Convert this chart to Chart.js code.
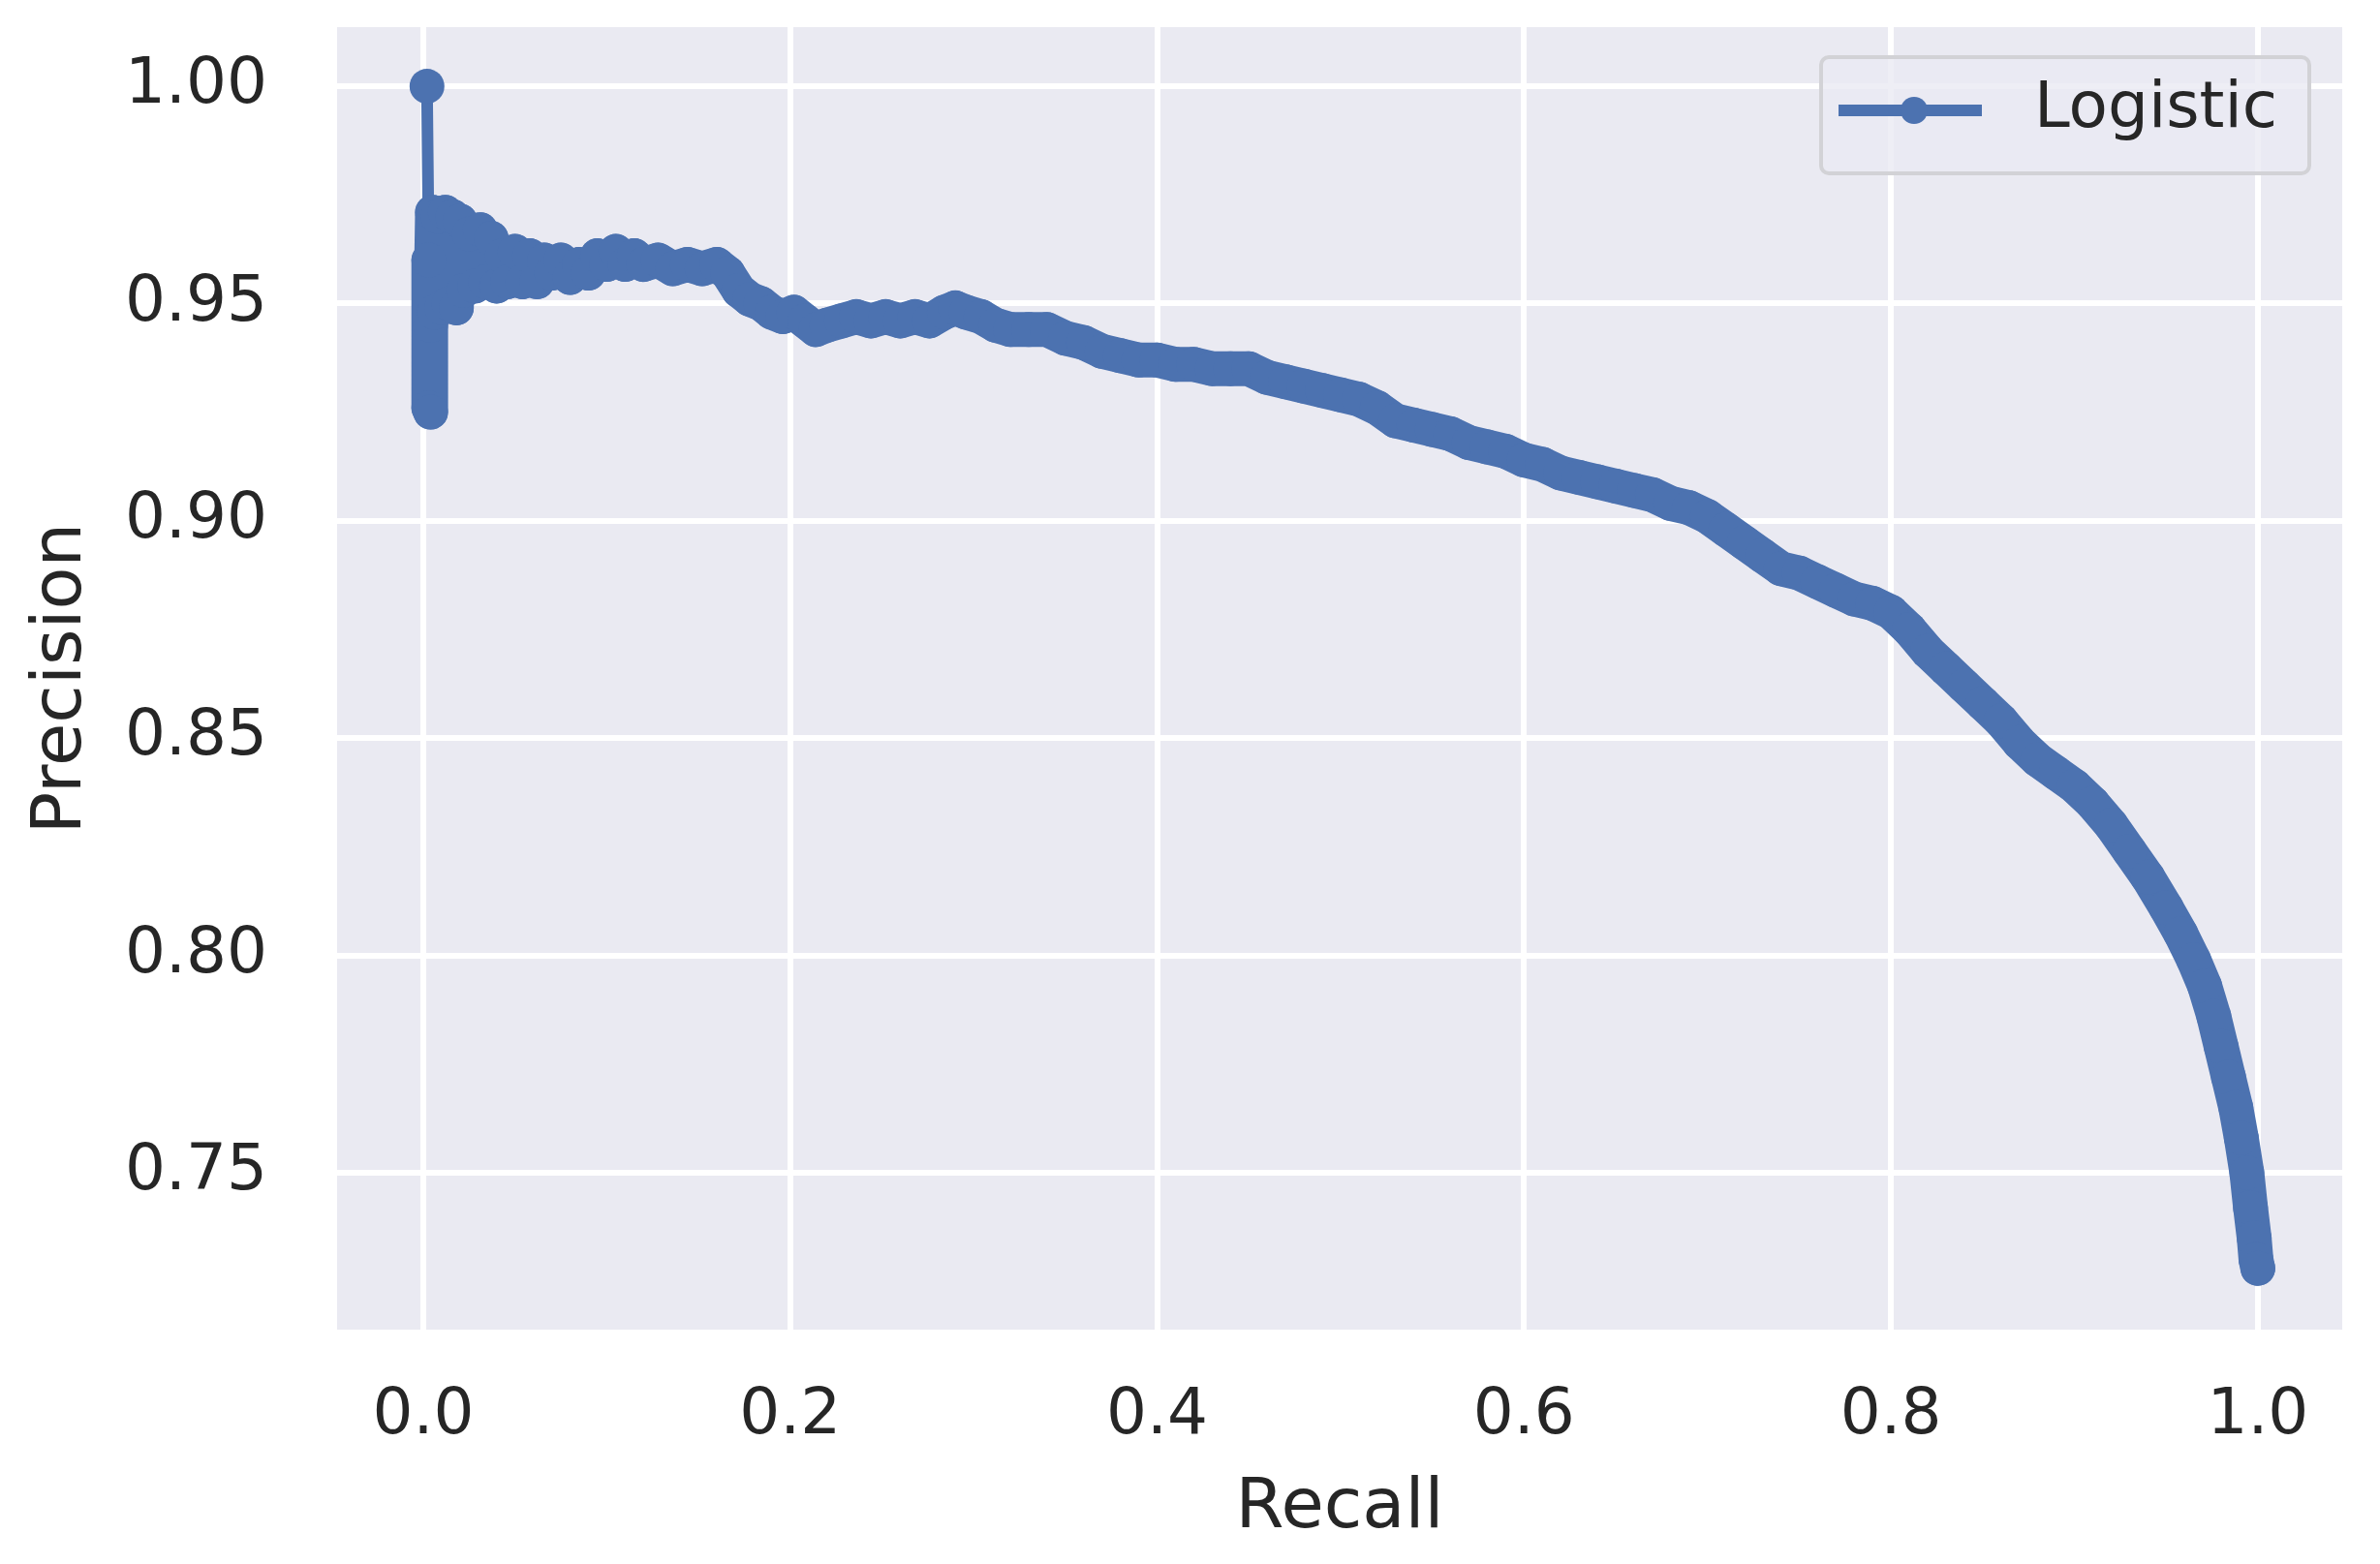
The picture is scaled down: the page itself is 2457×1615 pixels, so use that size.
<!DOCTYPE html>
<html>
<head>
  <script src="https://cdn.jsdelivr.net/npm/chart.js"></script>
  <style>
    body {
      margin: 0px;
      background: #ffffff;
    }
    canvas {
      display: block;
    }
  </style>
</head>
<body>
  <canvas id="prChart" width="2457" height="1615"></canvas>

  <script>
    // Precision-recall curve for the logistic model
    var recall = [
      0.002, 0.003, 0.003, 0.004, 0.004, 0.005, 0.006, 0.008, 0.010, 0.012,
      0.014, 0.016, 0.018, 0.020, 0.022, 0.025, 0.028, 0.031, 0.034, 0.037,
      0.040, 0.043, 0.046, 0.050, 0.054, 0.058, 0.062, 0.066, 0.070, 0.075,
      0.080, 0.085, 0.090, 0.095, 0.100, 0.105, 0.110, 0.115, 0.120, 0.128,
      0.136, 0.144, 0.152, 0.160, 0.166, 0.172, 0.178, 0.184, 0.190, 0.196,
      0.202, 0.208, 0.214, 0.220, 0.228, 0.236, 0.244, 0.252, 0.260, 0.268,
      0.276, 0.284, 0.290, 0.296, 0.304, 0.312, 0.320, 0.330, 0.340, 0.350,
      0.360, 0.370, 0.380, 0.390, 0.400, 0.410, 0.420, 0.430, 0.440, 0.450,
      0.460, 0.470, 0.480, 0.490, 0.500, 0.510, 0.520, 0.530, 0.540, 0.550,
      0.560, 0.570, 0.580, 0.590, 0.600, 0.610, 0.620, 0.630, 0.640, 0.650,
      0.660, 0.670, 0.680, 0.690, 0.700, 0.710, 0.720, 0.730, 0.740, 0.750,
      0.760, 0.770, 0.780, 0.790, 0.800, 0.810, 0.820, 0.830, 0.840, 0.850,
      0.860, 0.870, 0.880, 0.890, 0.900, 0.910, 0.920, 0.930, 0.940, 0.950,
      0.958, 0.965, 0.971, 0.976, 0.980, 0.984, 0.988, 0.991, 0.994, 0.996,
      0.998, 0.999, 1.000
    ];
    var precision = [
      1.000, 0.960, 0.926, 0.925, 0.945, 0.971, 0.948, 0.970, 0.949, 0.971,
      0.950, 0.970, 0.949, 0.969, 0.953, 0.966, 0.954, 0.967, 0.955, 0.965,
      0.954, 0.961, 0.955, 0.962, 0.955, 0.961, 0.955, 0.960, 0.957, 0.960,
      0.956, 0.959, 0.957, 0.961, 0.959, 0.962, 0.959, 0.961, 0.959, 0.960,
      0.958, 0.959, 0.958, 0.959, 0.957, 0.953, 0.951, 0.950, 0.948, 0.947,
      0.948, 0.946, 0.944, 0.945, 0.946, 0.947, 0.946, 0.947, 0.946, 0.947,
      0.946, 0.948, 0.949, 0.948, 0.947, 0.945, 0.944, 0.944, 0.944, 0.942,
      0.941, 0.939, 0.938, 0.937, 0.937, 0.936, 0.936, 0.935, 0.935, 0.935,
      0.933, 0.932, 0.931, 0.930, 0.929, 0.928, 0.926, 0.923, 0.922, 0.921,
      0.920, 0.918, 0.917, 0.916, 0.914, 0.913, 0.911, 0.910, 0.909, 0.908,
      0.907, 0.906, 0.904, 0.903, 0.901, 0.898, 0.895, 0.892, 0.889, 0.888,
      0.886, 0.884, 0.882, 0.881, 0.879, 0.875, 0.870, 0.866, 0.862, 0.858,
      0.854, 0.849, 0.845, 0.842, 0.839, 0.835, 0.830, 0.824, 0.818, 0.811,
      0.805, 0.799, 0.793, 0.786, 0.779, 0.772, 0.765, 0.758, 0.750, 0.742,
      0.735, 0.730, 0.728
    ];

    // Axis ticks
    var xTicks = [0.0, 0.2, 0.4, 0.6, 0.8, 1.0];
    var xTickLabels = ['0.0', '0.2', '0.4', '0.6', '0.8', '1.0'];
    var yTicks = [0.75, 0.80, 0.85, 0.90, 0.95, 1.00];
    var yTickLabels = ['0.75', '0.80', '0.85', '0.90', '0.95', '1.00'];

    var seriesName = 'Logistic';
    var blue = '#4c72b0';
    var textColor = '#262626';
    var fontFamily = '"DejaVu Sans", sans-serif';

    var points = [];
    for (var i = 0; i < recall.length; i++) {
      points.push({ x: recall[i], y: precision[i] });
    }

    // grey plot background like seaborn darkgrid
    var plotBackground = {
      id: 'plotBackground',
      beforeDraw: function(chart) {
        var a = chart.chartArea;
        var ctx = chart.ctx;
        ctx.save();
        ctx.fillStyle = '#eaeaf2';
        ctx.fillRect(a.left, a.top, a.right - a.left, a.bottom - a.top);
        ctx.restore();
      }
    };

    // matplotlib style legend in the upper right corner of the plot
    var innerLegend = {
      id: 'innerLegend',
      afterDraw: function(chart) {
        var ctx = chart.ctx;
        var a = chart.chartArea;
        var ds = chart.data.datasets[0];
        var w = 504, h = 120;
        var x = a.right - 34 - w, y = a.top + 31;
        ctx.save();
        ctx.beginPath();
        ctx.roundRect(x, y, w, h, 8);
        ctx.fillStyle = 'rgba(234, 234, 242, 0.8)';
        ctx.fill();
        ctx.lineWidth = 4;
        ctx.strokeStyle = '#d2d2d6';
        ctx.stroke();

        var cy = y + h / 2 - 5;
        ctx.beginPath();
        ctx.moveTo(x + 18, cy);
        ctx.lineTo(x + 166, cy);
        ctx.lineWidth = 12;
        ctx.strokeStyle = ds.borderColor;
        ctx.stroke();
        ctx.beginPath();
        ctx.arc(x + 96, cy, 14, 0, Math.PI * 2);
        ctx.fillStyle = ds.backgroundColor;
        ctx.fill();

        ctx.fillStyle = textColor;
        ctx.font = '66px ' + fontFamily;
        ctx.textAlign = 'left';
        ctx.textBaseline = 'middle';
        ctx.fillText(ds.label, x + 220, cy);
        ctx.restore();
      }
    };

    var config = {
      type: 'scatter',
      data: {
        datasets: [{
          label: seriesName,
          data: points,
          showLine: true,
          borderColor: blue,
          backgroundColor: blue,
          borderWidth: 36,
          borderJoinStyle: 'round',
          borderCapStyle: 'round',
          // the first drop from 1.00 is a single thin segment
          segment: {
            borderWidth: function(c) { return c.p0DataIndex === 0 ? 12 : 36; }
          },
          pointRadius: 18,
          pointBorderWidth: 0,
          pointHoverRadius: 18
        }]
      },
      options: {
        responsive: false,
        animation: false,
        layout: {
          padding: { top: 28, right: 39, left: 0, bottom: 0 }
        },
        plugins: {
          legend: { display: false },
          tooltip: { enabled: false }
        },
        scales: {
          x: {
            type: 'linear',
            min: -0.047,
            max: 1.046,
            afterFit: function(scale) {
              scale.height = 242;
              scale.paddingLeft = 0;
              scale.paddingRight = 0;
            },
            afterBuildTicks: function(scale) {
              scale.ticks = xTicks.map(function(v) { return { value: v }; });
            },
            grid: { color: '#ffffff', lineWidth: 6, drawTicks: false },
            border: { display: false },
            ticks: {
              padding: 50,
              color: textColor,
              font: { family: fontFamily, size: 66 },
              maxRotation: 0,
              callback: function(value, index) { return xTickLabels[index]; }
            },
            title: {
              display: true,
              text: 'Recall',
              color: textColor,
              font: { family: fontFamily, size: 72 },
              padding: { top: 0, bottom: 14 }
            }
          },
          y: {
            type: 'linear',
            min: 0.7139,
            max: 1.0136,
            afterFit: function(scale) {
              scale.width = 348;
              scale.paddingTop = 0;
              scale.paddingBottom = 0;
            },
            afterBuildTicks: function(scale) {
              scale.ticks = yTicks.map(function(v) { return { value: v }; });
            },
            grid: { color: '#ffffff', lineWidth: 6, drawTicks: false },
            border: { display: false },
            ticks: {
              padding: 72,
              color: textColor,
              font: { family: fontFamily, size: 66 },
              callback: function(value, index) { return yTickLabels[index]; }
            },
            title: {
              display: true,
              text: 'Precision',
              color: textColor,
              font: { family: fontFamily, size: 72 },
              padding: { top: 21, bottom: 0 }
            }
          }
        }
      },
      plugins: [plotBackground, innerLegend]
    };

    var ctx = document.getElementById('prChart').getContext('2d');
    new Chart(ctx, config);
  </script>
</body>
</html>
